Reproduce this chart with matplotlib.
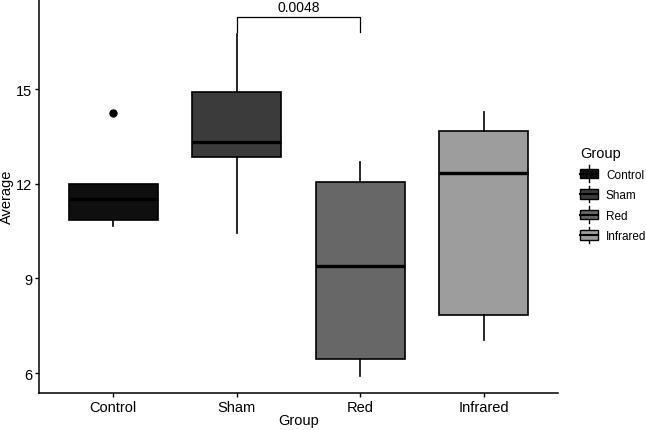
import matplotlib
matplotlib.use('Agg')
import matplotlib.pyplot as plt
from matplotlib.legend_handler import HandlerBase
from matplotlib.patches import Rectangle
from matplotlib.lines import Line2D

plt.rcParams['font.family'] = ['Liberation Sans', 'DejaVu Sans']

groups = ['Control', 'Sham', 'Red', 'Infrared']
fills = ['#0f0f0f', '#3b3b3b', '#676767', '#9d9d9d']
# whisker low, q1, median, q3, whisker high
whislo = [10.65, 10.43, 5.90, 7.06]
q1 = [10.87, 12.84, 6.45, 7.83]
med = [11.51, 13.32, 9.41, 12.33]
q3 = [12.00, 14.90, 12.05, 13.67]
whishi = [12.00, 16.75, 12.68, 14.27]
outliers = [[14.24], [], [], []]
pval = '0.0048'
yticks = [6, 9, 12, 15]

fig = plt.figure(figsize=(6.46, 4.31), dpi=100)
ax = fig.add_axes([39/646, 37/431, 519/646, 394/431])

stats = []
for i, g in enumerate(groups):
    stats.append(dict(label=g, whislo=whislo[i], q1=q1[i], med=med[i],
                      q3=q3[i], whishi=whishi[i], fliers=outliers[i]))

bp = ax.bxp(stats, positions=range(len(groups)), widths=0.72, patch_artist=True,
            showcaps=False,
            boxprops=dict(edgecolor='black', linewidth=1.2),
            medianprops=dict(color='black', linewidth=2.4),
            whiskerprops=dict(color='black', linewidth=1.2),
            flierprops=dict(marker='o', markerfacecolor='black', markeredgecolor='black',
                            markersize=5))
for patch, c in zip(bp['boxes'], fills):
    patch.set_facecolor(c)

# significance bracket Sham vs Red
yb = 17.29
ax.plot([1, 1, 2, 2], [16.81, yb, yb, 16.81], color='black', linewidth=0.9)
ax.text(1.5, yb + 0.08, pval, ha='center', va='bottom', fontsize=10)

ax.set_xlim(-0.6, 3.6)
ax.set_ylim(5.37, 17.86)
ax.set_yticks(yticks)
ax.set_xticks(range(len(groups)))
ax.set_xticklabels(groups)
ax.tick_params(labelsize=10.5, length=3, width=1, colors='black', pad=2)
for s in ['top', 'right']:
    ax.spines[s].set_visible(False)
for s in ['left', 'bottom']:
    ax.spines[s].set_linewidth(1.1)
ax.set_xlabel('Group', fontsize=10.5, va='center')
ax.xaxis.set_label_coords(0.5, -27/394)
ax.set_ylabel('Average', fontsize=10.5, va='center')
ax.yaxis.set_label_coords(-32/519, 0.5)


class BoxHandler(HandlerBase):
    # small boxplot glyph for legend keys
    def create_artists(self, legend, orig_handle, xdescent, ydescent, width, height, fontsize, trans):
        c = orig_handle.get_facecolor()
        cx = width / 2 - xdescent
        w = width * 0.95
        h = height * 0.9
        y0 = -ydescent + (height - h) / 2
        vline = Line2D([cx, cx], [y0 - 2.5, y0 + h + 2.5], color='black', lw=1, transform=trans)
        rect = Rectangle((cx - w / 2, y0), w, h, facecolor=c, edgecolor='black', lw=1, transform=trans)
        mline = Line2D([cx - w / 2, cx + w / 2], [y0 + h / 2] * 2, color='black', lw=1.5, transform=trans)
        return [vline, rect, mline]


handles = [Rectangle((0, 0), 1, 1, facecolor=c) for c in fills]
leg = fig.legend(handles, groups, handler_map={Rectangle: BoxHandler()},
                 loc='upper left', bbox_to_anchor=(580/646, 1 - 147/431),
                 frameon=False, title='Group', fontsize=8.5, title_fontsize=10.5,
                 handlelength=1.6, handleheight=1.05, handletextpad=0.6, labelspacing=0.68,
                 borderaxespad=0, borderpad=0)
leg._legend_box.align = 'left'

fig.savefig('out.png', dpi=100)
